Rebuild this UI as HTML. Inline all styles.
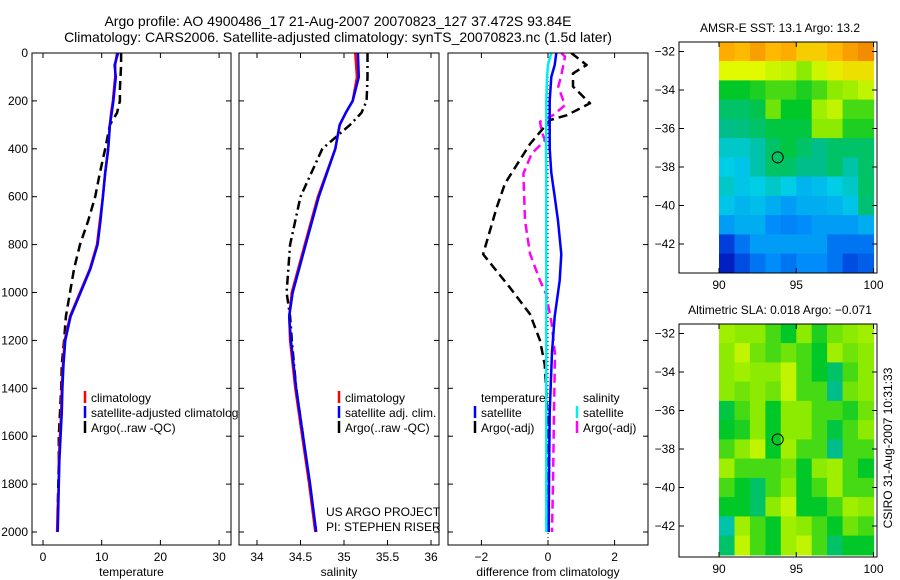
<!DOCTYPE html>
<html><head><meta charset="utf-8"><style>
html,body{margin:0;padding:0;background:#fff}
svg{display:block;font-family:"Liberation Sans",sans-serif}
</style></head><body>
<svg id="s" width="900" height="580" xmlns="http://www.w3.org/2000/svg"></svg>
<script>
// ---- data ----
const depthT=[0,50,100,150,200,250,300,400,500,600,700,800,900,1000,1100,1200,1300,1400,1500,1600,1700,1800,1900,2000];
const argoTemp=[13.3,13.3,13.2,13.1,13.1,12.6,11.4,10.6,9.7,8.9,7.7,6.3,5.3,4.6,3.9,3.6,3.2,3.1,2.9,2.7,2.7,2.6,2.5,2.5];
const climTemp=[12.6,12.3,12.3,12.1,11.9,11.6,11.4,11.1,10.6,10.2,9.7,9.2,8.0,6.3,4.6,3.7,3.4,3.2,3.1,2.9,2.7,2.7,2.5,2.4];
const satTemp=[12.8,12.2,12.4,12.2,12.0,11.7,11.4,11.1,10.6,10.2,9.8,9.3,8.1,6.4,4.7,3.8,3.5,3.3,3.2,3.0,2.8,2.7,2.6,2.5];
const depthS=[0,100,200,250,300,400,600,800,1000,1100,1200,1400,1600,1800,2000];
const argoSal=[35.27,35.27,35.26,35.2,35.07,34.75,34.5,34.38,34.34,34.38,34.4,34.45,34.53,34.6,34.68];
const climSal=[35.13,35.15,35.1,35.02,34.95,34.9,34.7,34.55,34.4,34.37,34.38,34.44,34.52,34.6,34.67];
const satSal=[35.16,35.17,35.1,35.02,34.95,34.9,34.71,34.56,34.41,34.37,34.39,34.45,34.53,34.61,34.68];
const depthDT=[0,50,85,140,210,260,280,380,545,645,840,980,1090,1200,1300,1400,1600,1800,2000];
const argoTempDiff=[0.7,1.16,0.75,0.75,1.26,0.56,0.06,-0.54,-1.29,-1.54,-1.95,-1.14,-0.54,-0.24,-0.1,-0.05,0,0,0];
const depthDS=[0,15,85,141,218,259,287,329,364,420,503,699,838,950,1005,1131,1256,1500,1800,2000];
const argoSalDiff=[0.4,0.51,0.41,0.31,0.51,0.16,-0.24,-0.19,-0.09,-0.49,-0.74,-0.69,-0.54,-0.24,-0.06,0.11,0.21,0.18,0.15,0.12];
const depthD=[0,50,100,200,300,400,500,600,700,840,950,1100,1250,1500,1800,2000];
const satTempDiff=[0.25,0.2,0.1,0.05,0.05,0.05,0.1,0.2,0.3,0.4,0.35,0.2,0.12,0.05,0.03,0.02];
const satSalDiff=[0.1,0,-0.03,-0.05,-0.05,-0.06,-0.05,-0.05,-0.05,-0.05,-0.05,-0.05,-0.05,-0.05,-0.05,-0.05];
const depthTicks=[0,200,400,600,800,1000,1200,1400,1600,1800,2000];
const tempTicks=[0,10,20,30];
const salTicks=[34,34.5,35,35.5,36];
const diffTicks=[-2,0,2];
const lonTicks=[90,95,100];
const latTicks=[-32,-34,-36,-38,-40,-42];
const sstGrid=[
[0.8,0.78,0.82,0.78,0.8,0.75,0.75,0.78,0.82,0.85],
[0.68,0.68,0.68,0.66,0.65,0.6,0.66,0.7,0.72,0.72],
[0.5,0.5,0.52,0.55,0.55,0.52,0.55,0.6,0.62,0.65],
[0.45,0.45,0.47,0.58,0.5,0.5,0.62,0.65,0.55,0.55],
[0.42,0.43,0.45,0.48,0.48,0.48,0.6,0.6,0.52,0.52],
[0.38,0.38,0.4,0.45,0.48,0.45,0.42,0.45,0.45,0.45],
[0.36,0.35,0.4,0.45,0.45,0.42,0.42,0.45,0.4,0.45],
[0.38,0.35,0.36,0.38,0.36,0.33,0.34,0.36,0.38,0.45],
[0.35,0.33,0.34,0.32,0.3,0.32,0.32,0.33,0.35,0.44],
[0.3,0.32,0.32,0.28,0.27,0.28,0.3,0.3,0.3,0.32],
[0.18,0.25,0.3,0.3,0.3,0.3,0.3,0.25,0.25,0.25],
[0.12,0.2,0.25,0.28,0.25,0.28,0.28,0.25,0.2,0.22]];
const slaGrid=[
[0.62,0.6,0.6,0.55,0.5,0.6,0.52,0.58,0.6,0.62],
[0.6,0.65,0.58,0.55,0.58,0.55,0.5,0.62,0.58,0.6],
[0.6,0.62,0.6,0.6,0.65,0.55,0.5,0.45,0.55,0.6],
[0.6,0.58,0.6,0.58,0.65,0.55,0.55,0.42,0.58,0.6],
[0.48,0.55,0.6,0.5,0.6,0.6,0.55,0.55,0.52,0.58],
[0.5,0.52,0.6,0.5,0.6,0.6,0.55,0.48,0.55,0.6],
[0.55,0.6,0.65,0.5,0.62,0.55,0.55,0.42,0.55,0.55],
[0.62,0.55,0.55,0.55,0.58,0.5,0.6,0.62,0.55,0.5],
[0.55,0.5,0.45,0.55,0.6,0.5,0.55,0.62,0.55,0.55],
[0.5,0.5,0.45,0.6,0.65,0.5,0.5,0.55,0.62,0.6],
[0.4,0.62,0.55,0.5,0.62,0.6,0.55,0.5,0.58,0.55],
[0.45,0.65,0.55,0.5,0.62,0.65,0.55,0.45,0.5,0.5]];
const argoLon=93.8, argoLat=-37.5;

const S=document.getElementById('s'),NS='http://www.w3.org/2000/svg';
function el(t,a,p){const e=document.createElementNS(NS,t);for(const k in a)e.setAttribute(k,a[k]);(p||S).appendChild(e);return e;}
function txt(x,y,s,anchor,size,p){const e=el('text',{x:x,y:y,'text-anchor':anchor||'middle','font-size':size||12,fill:'#000'},p);e.textContent=s;return e;}
function lin(d0,d1,r0,r1){return v=>r0+(v-d0)*(r1-r0)/(d1-d0);}

const yD=lin(0,2000,53,532);
const P=[
 {name:'temperature',x0:32,x1:231,sx:lin(0,10,43,101.7),ticks:tempTicks,label:'temperature'},
 {name:'salinity',x0:239,x1:439,sx:lin(34,35,257,344),ticks:salTicks,label:'salinity'},
 {name:'difference',x0:448,x1:648,sx:lin(0,2,548,614.6),ticks:diffTicks,label:'difference from climatology'}];
const TOP=53,BOT=545;

P.forEach((p,i)=>{
 const g=el('g',{});
 
 
 const cp=el('clipPath',{id:'c'+i},g);el('rect',{x:p.x0,y:TOP,width:p.x1-p.x0,height:BOT-TOP},cp);
 p.g=el('g',{'clip-path':'url(#c'+i+')'},g);
 el('rect',{x:p.x0,y:TOP,width:p.x1-p.x0,height:BOT-TOP,fill:'none',stroke:'#000','stroke-width':1},g);
 depthTicks.forEach(d=>{const y=yD(d);
  el('line',{x1:p.x0,x2:p.x0+5,y1:y,y2:y,stroke:'#000'},g);
  el('line',{x1:p.x1-5,x2:p.x1,y1:y,y2:y,stroke:'#000'},g);
  if(i==0){const t=txt(28,y+4,String(d),'end',12,g);}
 });
 p.ticks.forEach(v=>{const x=p.sx(v);
  el('line',{x1:x,x2:x,y1:TOP,y2:TOP+5,stroke:'#000'},g);
  el('line',{x1:x,x2:x,y1:BOT-5,y2:BOT,stroke:'#000'},g);
  const t=txt(x,561,String(v).replace('-','\u2212'),'middle',12,g);
  
 });
 const xl=txt((p.x0+p.x1)/2,576,p.label,'middle',12,g);
 
});

function series(p,depths,vals,color,w,dash,name){
 const pts=depths.map((d,k)=>p.sx(vals[k]).toFixed(1)+','+yD(d).toFixed(1)).join(' ');
 const a={points:pts,fill:'none',stroke:color,'stroke-width':w,'stroke-linejoin':'round'};
 if(dash)a['stroke-dasharray']=dash;
 const e=el('polyline',a,p.g);
 
 
}
series(P[0],depthT,argoTemp,'#000',2.5,'9,5','argo-temperature-line');
series(P[0],depthT,climTemp,'#f00',2.5,null,'climatology-temperature-line');
series(P[0],depthT,satTemp,'#00f',2.5,null,'satellite-temperature-line');
series(P[1],depthS,argoSal,'#000',2.5,'9,4,2,4','argo-salinity-line');
series(P[1],depthS,climSal,'#f00',2.5,null,'climatology-salinity-line');
series(P[1],depthS,satSal,'#00f',2.5,null,'satellite-salinity-line');
el('line',{x1:P[2].sx(0),x2:P[2].sx(0),y1:TOP,y2:BOT,stroke:'#000','stroke-dasharray':'1,3'},P[2].g);
series(P[2],depthDT,argoTempDiff,'#000',2.5,'9,5','argo-temperature-diff-line');
series(P[2],depthDS,argoSalDiff,'#f0f',2.5,'9,5','argo-salinity-diff-line');
series(P[2],depthD,satTempDiff,'#00f',2.5,null,'satellite-temperature-diff-line');
series(P[2],depthD,satSalDiff,'#0ee',2.5,null,'satellite-salinity-diff-line');

const lc=el('clipPath',{id:'legclip'});el('rect',{x:0,y:0,width:238,height:580},lc);
function legend(x,y,items,name,clip){
 const g=el('g',clip?{'clip-path':'url(#legclip)'}:{});
 items.forEach((it,k)=>{const yy=y+k*15;
  if(it[1])el('line',{x1:x,x2:x,y1:yy-11,y2:yy+1,stroke:it[1],'stroke-width':2.5},g);
  const t=txt(x+6,yy,it[0],'start',12,g);
 });
}
legend(85,402,[['climatology','#f00'],['satellite-adjusted climatology','#00f'],['Argo(..raw -QC)','#000']],'temperature-legend',true);
legend(339,402,[['climatology','#f00'],['satellite adj. clim.','#00f'],['Argo(..raw -QC)','#000']],'salinity-legend');
legend(475,402,[['temperature',null],['satellite','#00f'],['Argo(-adj)','#000']],'temperature-diff-legend');
legend(577,402,[['salinity',null],['satellite','#0ee'],['Argo(-adj)','#f0f']],'salinity-diff-legend');
let t=txt(326,516,'US ARGO PROJECT','start',12);
t=txt(326,531,'PI: STEPHEN RISER','start',12);
t=txt(338,26,'Argo profile: AO 4900486_17 21-Aug-2007 20070823_127 37.472S 93.84E','middle',14);
t=txt(338,42,'Climatology: CARS2006. Satellite-adjusted climatology: synTS_20070823.nc (1.5d later)','middle',14);

// colormap
const stops=[[0,[0,0,130]],[0.15,[0,40,210]],[0.28,[0,140,250]],[0.36,[0,205,230]],[0.42,[0,190,140]],[0.5,[0,200,40]],[0.6,[140,235,0]],[0.68,[225,250,0]],[0.78,[255,185,0]],[0.9,[235,110,0]],[1,[200,60,0]]];
function cmap(v){for(let i=1;i<stops.length;i++){if(v<=stops[i][0]){const a=stops[i-1],b=stops[i],f=(v-a[0])/(b[0]-a[0]);return 'rgb('+a[1].map((c,j)=>Math.round(c+(b[1][j]-c)*f)).join(',')+')';}}return 'rgb(200,60,0)';}

function map(grid,top,bot,title,name){
 const x0=679,x1=877,sx=lin(90,100,719,873.5),sy=lin(-32,-42,top+9.5,top+202);
 const g=el('g',{});
 grid.forEach((row,r)=>row.forEach((v,c)=>{
  const xa=sx(90+c),xb=sx(91+c),ya=sy(-31.5-r),yb=sy(-32.5-r);
  const e=el('rect',{x:xa.toFixed(1),y:ya.toFixed(1),width:(xb-xa+0.6).toFixed(1),height:(yb-ya+0.6).toFixed(1),fill:cmap(v)},g);
  
 }));
 el('rect',{x:x0,y:top,width:x1-x0,height:bot-top,fill:'none',stroke:'#000'},g);
 latTicks.forEach(l=>{const y=sy(l);
  el('line',{x1:x0,x2:x0+5,y1:y,y2:y,stroke:'#000'},g);el('line',{x1:x1-5,x2:x1,y1:y,y2:y,stroke:'#000'},g);
  const t=txt(675,y+4,String(l).replace('-','\u2212'),'end',12,g);});
 lonTicks.forEach(l=>{const x=sx(l);
  el('line',{x1:x,x2:x,y1:top,y2:top+5,stroke:'#000'},g);el('line',{x1:x,x2:x,y1:bot-5,y2:bot,stroke:'#000'},g);
  const t=txt(x,bot+16,String(l),'middle',12,g);});
 const m=el('circle',{cx:sx(argoLon),cy:sy(argoLat),r:5.5,fill:'none',stroke:'#000'},g);
 
 const tt=txt(780,top-10,title,'middle',12,g);
}
map(sstGrid,42,273,'AMSR-E SST: 13.1 Argo: 13.2','sst-map');
map(slaGrid,324,557,'Altimetric SLA: 0.018 Argo: \u22120.071','sla-map');
t=txt(0,0,'CSIRO 31-Aug-2007 10:31:33','middle',12);
t.setAttribute('transform','translate(892,448) rotate(-90)');

</script>
</body></html>
